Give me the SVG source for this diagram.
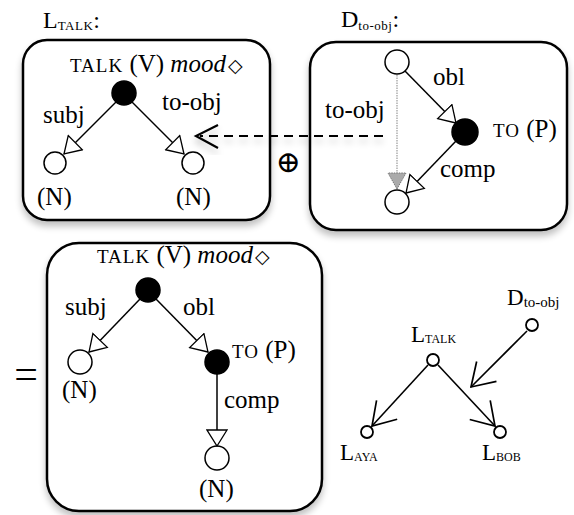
<svg xmlns="http://www.w3.org/2000/svg" width="574" height="515" viewBox="0 0 574 515">
<defs>
<style>
text{font-family:"Liberation Serif","DejaVu Serif",serif;fill:#000}
.lb{font-size:25px}
.sc{font-size:19px;letter-spacing:1px}
.sub{font-size:13px;letter-spacing:0.5px}
.dia{font-size:19px;font-family:"DejaVu Sans",sans-serif}
.box{fill:#fff;stroke:#000;stroke-width:2.5}
.e{stroke:#000;stroke-width:1.5;fill:none}
.full{fill:#000;stroke:#000;stroke-width:1.5}
.empty{fill:#fff;stroke:#000;stroke-width:1.5}
.sm{fill:#fff;stroke:#000;stroke-width:1.8}
.v{stroke:#000;stroke-width:1.6;fill:none}
</style>
<filter id="sh" x="-20%" y="-20%" width="140%" height="150%">
<feGaussianBlur in="SourceAlpha" stdDeviation="3.5"/>
<feOffset dx="0" dy="5" result="b"/>
<feComponentTransfer><feFuncA type="linear" slope="0.25"/></feComponentTransfer>
<feMerge><feMergeNode/><feMergeNode in="SourceGraphic"/></feMerge>
</filter>
<marker id="tri" viewBox="0 0 18 22" refX="17" refY="11" markerWidth="18" markerHeight="22" markerUnits="userSpaceOnUse" orient="auto">
<path d="M1,1 L17,11 L1,21 Z" fill="#fff" stroke="#000" stroke-width="1.3"/>
</marker>
<marker id="gtri" viewBox="0 0 18 20" refX="17" refY="10" markerWidth="18" markerHeight="20" markerUnits="userSpaceOnUse" orient="auto">
<path d="M1,1 L17,10 L1,19 Z" fill="#aaa" stroke="#777" stroke-width="1" stroke-dasharray="1.5 1"/>
</marker>
<marker id="vee" viewBox="0 0 24 30" refX="23" refY="15" markerWidth="24" markerHeight="30" markerUnits="userSpaceOnUse" orient="auto">
<path d="M1,1 L23,15 L1,29" fill="none" stroke="#000" stroke-width="1.7"/>
</marker>
</defs>
<rect width="574" height="515" fill="#fff"/>

<g id="box-ltalk">
<rect class="box" x="23" y="40" width="247" height="180" rx="24" filter="url(#sh)"/>
<text x="43" y="28" font-size="24">L<tspan class="sub" dy="2">TALK</tspan><tspan dy="-2">:</tspan></text>
<text x="70" y="72" class="lb"><tspan class="sc">TALK</tspan> (V) <tspan font-style="italic">mood</tspan><tspan class="dia" dx="2">◇</tspan></text>
<circle class="full" cx="124" cy="93" r="12"/>
<circle class="empty" cx="55" cy="163" r="11"/>
<circle class="empty" cx="193" cy="163" r="11"/>
<text class="lb" x="43" y="123">subj</text>
<text class="lb" x="162" y="110">to-obj</text>
<text class="lb" x="37" y="205">(N)</text>
<text class="lb" x="176" y="205">(N)</text>
</g>

<g id="box-dtoobj">
<rect class="box" x="310" y="42" width="257" height="188" rx="26" filter="url(#sh)"/>
<text x="341" y="27" font-size="24">D<tspan class="sub" font-size="15" dy="3">to-obj</tspan><tspan dy="-3">:</tspan></text>
<circle class="empty" cx="397" cy="62" r="12"/>
<circle class="full" cx="465" cy="132" r="13"/>
<circle class="empty" cx="397" cy="202" r="12"/>
<text class="lb" x="433" y="85">obl</text>
<text class="lb" x="325" y="118">to-obj</text>
<text x="493" y="137" font-size="25"><tspan class="sc">TO</tspan> (P)</text>
<text class="lb" x="440" y="177">comp</text>
</g>

<g id="box-result">
<rect class="box" x="47" y="243" width="275" height="268" rx="32" filter="url(#sh)"/>
<text x="97" y="263" class="lb"><tspan class="sc">TALK</tspan> (V) <tspan font-style="italic">mood</tspan><tspan class="dia" dx="2">◇</tspan></text>
<circle class="full" cx="148" cy="290" r="12"/>
<circle class="empty" cx="80" cy="362" r="12"/>
<circle class="full" cx="217" cy="362" r="12"/>
<circle class="empty" cx="217" cy="458" r="12"/>
<text class="lb" x="65" y="315">subj</text>
<text class="lb" x="183" y="315">obl</text>
<text x="232" y="358" font-size="25"><tspan class="sc">TO</tspan> (P)</text>
<text class="lb" x="224" y="408">comp</text>
<text class="lb" x="62" y="398">(N)</text>
<text class="lb" x="199" y="497">(N)</text>
</g>

<g id="ops">
<text x="288" y="172" font-size="30" text-anchor="middle" font-family="DejaVu Sans,sans-serif">⊕</text>
<text x="26" y="388" font-size="42" text-anchor="middle">=</text>
</g>

<g id="lex-graph">
<circle class="sm" cx="433" cy="360" r="6"/>
<circle class="sm" cx="367" cy="432" r="6"/>
<circle class="sm" cx="500" cy="432" r="6"/>
<circle class="sm" cx="532" cy="325" r="6"/>
<text x="411" y="342" font-size="23">L<tspan font-size="12" dy="1">TALK</tspan></text>
<text x="340" y="460" font-size="23">L<tspan font-size="12" dy="1">AYA</tspan></text>
<text x="482" y="460" font-size="23">L<tspan font-size="12" dy="1">BOB</tspan></text>
<text x="507" y="305" font-size="23">D<tspan font-size="15" dy="2">to-obj</tspan></text>
</g>

<g id="connectors">
<line class="e" x1="116" y1="102" x2="64" y2="154" marker-end="url(#tri)"/>
<line class="e" x1="132" y1="102" x2="184" y2="154" marker-end="url(#tri)"/>
<line class="e" x1="405" y1="71" x2="456" y2="123" marker-end="url(#tri)"/>
<line class="e" x1="456" y1="141" x2="406" y2="193" marker-end="url(#tri)"/>
<line x1="397" y1="75" x2="397" y2="189" stroke="#999" stroke-width="1.2" stroke-dasharray="1.5 1" marker-end="url(#gtri)"/>
<g filter="url(#sh)">
<line x1="383" y1="136" x2="200" y2="136" stroke="#000" stroke-width="2.2" stroke-dasharray="9 6"/>
<path d="M218,125 L196,136 L218,148" fill="none" stroke="#000" stroke-width="2.2"/>
</g>
<line class="e" x1="140" y1="299" x2="89" y2="352" marker-end="url(#tri)"/>
<line class="e" x1="156" y1="299" x2="208" y2="352" marker-end="url(#tri)"/>
<line class="e" x1="217" y1="374" x2="217" y2="446" marker-end="url(#tri)"/>
<line class="v" x1="428" y1="365" x2="372" y2="426" marker-end="url(#vee)"/>
<line class="v" x1="438" y1="365" x2="495" y2="426" marker-end="url(#vee)"/>
<line class="v" x1="527" y1="331" x2="471" y2="387" marker-end="url(#vee)"/>
</g>
</svg>
